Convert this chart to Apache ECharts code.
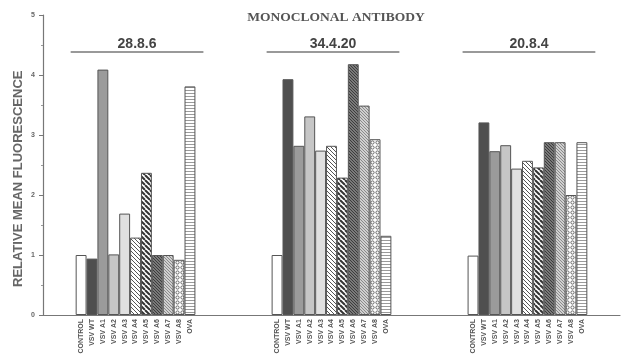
<!DOCTYPE html>
<html>
<head>
<meta charset="utf-8">
<script src="https://cdn.jsdelivr.net/npm/echarts@6/dist/echarts.min.js"></script>
<style>
  html, body { margin: 0; padding: 0; background: #fff; }
  #chart { width: 622px; height: 364px; }
</style>
</head>
<body>
<div id="chart"></div>
<script>
// antigens shown under every antibody group
const antigens = ['CONTROL', 'VSV WT', 'VSV A1', 'VSV A2', 'VSV A3', 'VSV A4',
  'VSV A5', 'VSV A6', 'VSV A7', 'VSV A8', 'OVA'];
const antibodies = ['28.8.6', '34.4.20', '20.8.4'];
const values_2886 = [1.0, 0.94, 4.09, 1.01, 1.69, 1.29, 2.37, 1.0, 1.0, 0.92, 3.81];
const values_34420 = [1.0, 3.93, 2.82, 3.31, 2.74, 2.82, 2.29, 4.18, 3.49, 2.93, 1.32];
const values_2084 = [0.99, 3.21, 2.73, 2.83, 2.44, 2.57, 2.46, 2.88, 2.88, 2.0, 2.88];
const yTicks = [0, 1, 2, 3, 4, 5];

// blank slots around and between groups
const leadGap = 3, midGap = 7, tailGap = 3;

function tile(size, draw) {
  const c = document.createElement('canvas');
  c.width = size; c.height = size;
  const ctx = c.getContext('2d');
  draw(ctx, size);
  return { image: c, repeat: 'repeat' };
}
function diag(bg, fg, size, lw) {
  return tile(size, (ctx, s) => {
    ctx.fillStyle = bg; ctx.fillRect(0, 0, s, s);
    ctx.strokeStyle = fg; ctx.lineWidth = lw;
    for (let k = -s; k <= s; k += s) {
      ctx.beginPath(); ctx.moveTo(k, 0); ctx.lineTo(k + s, s); ctx.stroke();
    }
  });
}
const fills = [
  '#ffffff',
  '#4f4f4f',
  '#9b9b9b',
  '#c6c6c6',
  '#e0e0e0',
  diag('#ffffff', '#555', 4, 1),
  diag('#ffffff', '#333', 5, 2),
  diag('#7a7a7a', '#3c3c3c', 3, 1),
  diag('#d0d0d0', '#8a8a8a', 3, 1),
  tile(5, (ctx, s) => {
    ctx.fillStyle = '#fff'; ctx.fillRect(0, 0, s, s);
    ctx.strokeStyle = '#666'; ctx.lineWidth = 1;
    ctx.beginPath(); ctx.arc(2.5, 2.5, 1.6, 0, Math.PI * 2); ctx.stroke();
  }),
  tile(3, (ctx, s) => {
    ctx.fillStyle = '#fff'; ctx.fillRect(0, 0, s, s);
    ctx.fillStyle = '#9a9a9a'; ctx.fillRect(0, 0, s, 1);
  })
];

const groups = [values_2886, values_34420, values_2084];
const categories = [];
const barData = [];
const groupStart = [];
function pushGap(n) {
  for (let i = 0; i < n; i++) { categories.push(''); barData.push('-'); }
}
pushGap(leadGap);
groups.forEach((vals, g) => {
  groupStart.push(categories.length);
  vals.forEach((v, i) => {
    categories.push(antigens[i]);
    barData.push({ value: v, itemStyle: { color: fills[i] } });
  });
  pushGap(g < groups.length - 1 ? midGap : tailGap);
});

const chart = echarts.init(document.getElementById('chart'));
chart.setOption({
  animation: false,
  grid: { left: 43, right: 2, top: 15, bottom: 49 },
  xAxis: {
    type: 'category',
    data: categories,
    axisLine: { lineStyle: { color: '#777', width: 1.2 } },
    axisTick: { show: false },
    axisLabel: {
      interval: 0, rotate: 90, fontSize: 7, fontWeight: 'bold',
      color: '#555', margin: 4, fontFamily: 'Liberation Sans'
    }
  },
  yAxis: {
    type: 'value',
    min: yTicks[0], max: yTicks[yTicks.length - 1], interval: 1,
    splitLine: { show: false },
    axisLine: { show: true, lineStyle: { color: '#777', width: 1.2 } },
    axisTick: { show: true, length: 4, lineStyle: { color: '#777' } },
    minorTick: { show: true, splitNumber: 2, length: 2, lineStyle: { color: '#999' } },
    axisLabel: { fontSize: 7, fontWeight: 'bold', color: '#666', margin: 8 }
  },
  series: [{
    type: 'bar',
    data: barData,
    barWidth: '100%',
    itemStyle: { borderColor: '#555', borderWidth: 1 }
  }]
});

// title, axis name and antibody headers (line + label over each group)
const graphics = [
  {
    type: 'text', x: 336, y: 18,
    style: {
      text: 'MONOCLONAL ANTIBODY', fill: '#555', align: 'center', verticalAlign: 'middle',
      font: 'bold 13.5px "Liberation Serif", serif'
    }
  },
  {
    type: 'text', rotation: Math.PI / 2, x: 12, y: 287,
    style: {
      text: 'RELATIVE MEAN FLUORESCENCE', fill: '#666',
      font: 'bold 13px "Liberation Sans", sans-serif'
    }
  }
];
antibodies.forEach((name, g) => {
  const x0 = chart.convertToPixel({ xAxisIndex: 0 }, groupStart[g]);
  const x1 = chart.convertToPixel({ xAxisIndex: 0 }, groupStart[g] + antigens.length - 1);
  const half = (x1 - x0) / (antigens.length - 1) / 2;
  const left = x0 - half - 5, right = x1 + half + 8;
  graphics.push({
    type: 'line',
    shape: { x1: left, y1: 52, x2: right, y2: 52 },
    style: { stroke: '#777', lineWidth: 1.5 }
  });
  graphics.push({
    type: 'text', x: (left + right) / 2, y: 44,
    style: {
      text: name, fill: '#444', align: 'center', verticalAlign: 'middle',
      font: 'bold 14px "Liberation Sans", sans-serif'
    }
  });
});
chart.setOption({ graphic: graphics });
</script>
</body>
</html>
